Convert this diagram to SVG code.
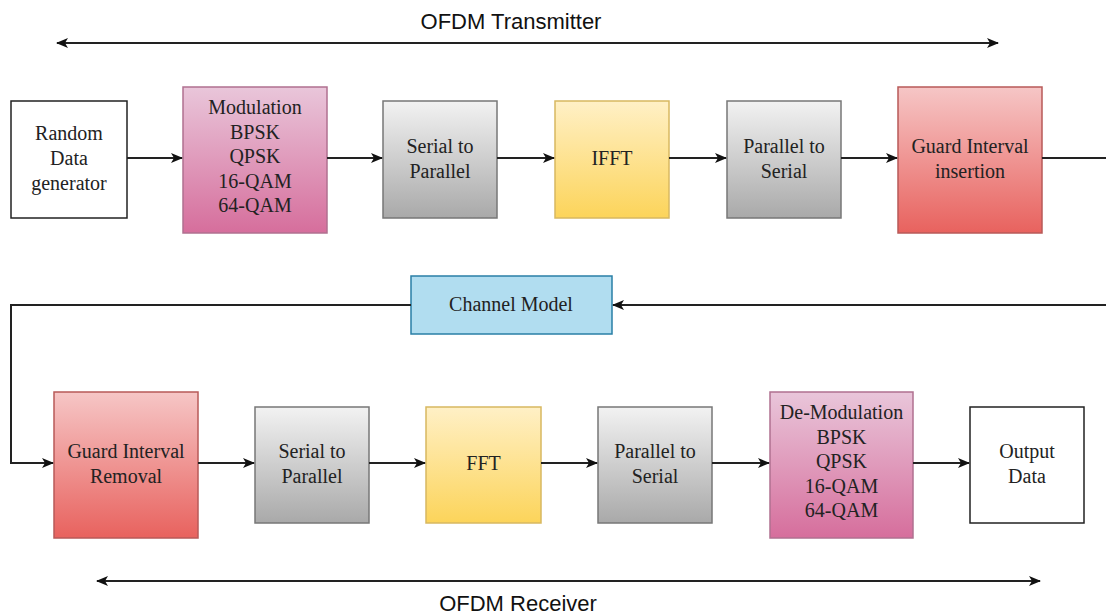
<svg xmlns="http://www.w3.org/2000/svg" width="1106" height="616" viewBox="0 0 1106 616">
<defs>
<linearGradient id="gPink" x1="0" y1="0" x2="0" y2="1"><stop offset="0" stop-color="#e9c6da"/><stop offset="1" stop-color="#d66e9c"/></linearGradient>
<linearGradient id="gGray" x1="0" y1="0" x2="0" y2="1"><stop offset="0" stop-color="#f2f2f2"/><stop offset="1" stop-color="#a9a9a9"/></linearGradient>
<linearGradient id="gYellow" x1="0" y1="0" x2="0" y2="1"><stop offset="0" stop-color="#fff0c6"/><stop offset="1" stop-color="#fcd45a"/></linearGradient>
<linearGradient id="gRed" x1="0" y1="0" x2="0" y2="1"><stop offset="0" stop-color="#f6c6c6"/><stop offset="1" stop-color="#e8625e"/></linearGradient>
<marker id="arr" viewBox="0 0 12 10" refX="11" refY="5" markerWidth="12" markerHeight="10" markerUnits="userSpaceOnUse" orient="auto-start-reverse">
<path d="M0,0 L12,5 L0,10 L3,5 Z" fill="#111"/>
</marker>
</defs>
<style>
.box{stroke-width:1.5}
.white{fill:#fff;stroke:#222}
.pink{fill:url(#gPink);stroke:#b07090}
.gray{fill:url(#gGray);stroke:#777}
.yellow{fill:url(#gYellow);stroke:#d8b860}
.red{fill:url(#gRed);stroke:#b85a58}
.blue{fill:#b1ddf0;stroke:#2a7fa6}
.t{font-family:"Liberation Serif","Times New Roman",serif;font-size:20px;fill:#222;text-anchor:middle}
.lbl{font-family:"Liberation Sans",Arial,sans-serif;font-size:22px;fill:#111;text-anchor:middle}
.c{fill:none;stroke:#222;stroke-width:2}
</style>

<g id="title-tx">
<text class="lbl" x="511" y="29">OFDM Transmitter</text>
</g>
<g id="title-rx">
<text class="lbl" x="518" y="611">OFDM Receiver</text>
</g>

<g id="random">
<rect class="box white" x="11" y="101" width="116" height="117"/>
<text class="t" x="69" y="140">Random</text>
<text class="t" x="69" y="165">Data</text>
<text class="t" x="69" y="190">generator</text>
</g>
<g id="modulation">
<rect class="box pink" x="183" y="87" width="144" height="146"/>
<text class="t" x="255" y="114">Modulation</text>
<text class="t" x="255" y="138.5">BPSK</text>
<text class="t" x="255" y="163">QPSK</text>
<text class="t" x="255" y="187.5">16-QAM</text>
<text class="t" x="255" y="212">64-QAM</text>
</g>
<g id="s2p-tx">
<rect class="box gray" x="383" y="101" width="114" height="117"/>
<text class="t" x="440" y="153">Serial to</text>
<text class="t" x="440" y="178">Parallel</text>
</g>
<g id="ifft">
<rect class="box yellow" x="555" y="101" width="114" height="117"/>
<text class="t" x="612" y="165">IFFT</text>
</g>
<g id="p2s-tx">
<rect class="box gray" x="727" y="101" width="114" height="117"/>
<text class="t" x="784" y="153">Parallel to</text>
<text class="t" x="784" y="178">Serial</text>
</g>
<g id="gi-insert">
<rect class="box red" x="898" y="87" width="144" height="146"/>
<text class="t" x="970" y="153">Guard Interval</text>
<text class="t" x="970" y="178">insertion</text>
</g>

<g id="channel">
<rect class="box blue" x="411" y="276" width="201" height="58"/>
<text class="t" x="511" y="311">Channel Model</text>
</g>

<g id="gi-remove">
<rect class="box red" x="54" y="392" width="144" height="146"/>
<text class="t" x="126" y="458">Guard Interval</text>
<text class="t" x="126" y="483">Removal</text>
</g>
<g id="s2p-rx">
<rect class="box gray" x="255" y="407" width="114" height="116"/>
<text class="t" x="312" y="458">Serial to</text>
<text class="t" x="312" y="483">Parallel</text>
</g>
<g id="fft">
<rect class="box yellow" x="426" y="407" width="115" height="116"/>
<text class="t" x="483.5" y="470">FFT</text>
</g>
<g id="p2s-rx">
<rect class="box gray" x="598" y="407" width="114" height="116"/>
<text class="t" x="655" y="458">Parallel to</text>
<text class="t" x="655" y="483">Serial</text>
</g>
<g id="demodulation">
<rect class="box pink" x="770" y="392" width="143" height="146"/>
<text class="t" x="841.5" y="419">De-Modulation</text>
<text class="t" x="841.5" y="443.5">BPSK</text>
<text class="t" x="841.5" y="468">QPSK</text>
<text class="t" x="841.5" y="492.5">16-QAM</text>
<text class="t" x="841.5" y="517">64-QAM</text>
</g>
<g id="output">
<rect class="box white" x="970" y="407" width="114" height="116"/>
<text class="t" x="1027" y="458">Output</text>
<text class="t" x="1027" y="483">Data</text>
</g>

<g id="connectors">
<line class="c" x1="57" y1="43" x2="998" y2="43" marker-start="url(#arr)" marker-end="url(#arr)"/>
<line class="c" x1="97" y1="581" x2="1040" y2="581" marker-start="url(#arr)" marker-end="url(#arr)"/>
<line class="c" x1="127" y1="158" x2="182" y2="158" marker-end="url(#arr)"/>
<line class="c" x1="327" y1="158" x2="382" y2="158" marker-end="url(#arr)"/>
<line class="c" x1="497" y1="158" x2="554" y2="158" marker-end="url(#arr)"/>
<line class="c" x1="669" y1="158" x2="726" y2="158" marker-end="url(#arr)"/>
<line class="c" x1="841" y1="158" x2="897" y2="158" marker-end="url(#arr)"/>
<line class="c" x1="1042" y1="158" x2="1106" y2="158"/>
<line class="c" x1="1106" y1="305" x2="613" y2="305" marker-end="url(#arr)"/>
<polyline class="c" points="411,305 11,305 11,463 53,463" marker-end="url(#arr)"/>
<line class="c" x1="198" y1="463" x2="254" y2="463" marker-end="url(#arr)"/>
<line class="c" x1="369" y1="463" x2="425" y2="463" marker-end="url(#arr)"/>
<line class="c" x1="541" y1="463" x2="597" y2="463" marker-end="url(#arr)"/>
<line class="c" x1="712" y1="463" x2="769" y2="463" marker-end="url(#arr)"/>
<line class="c" x1="913" y1="463" x2="969" y2="463" marker-end="url(#arr)"/>
</g>
</svg>
